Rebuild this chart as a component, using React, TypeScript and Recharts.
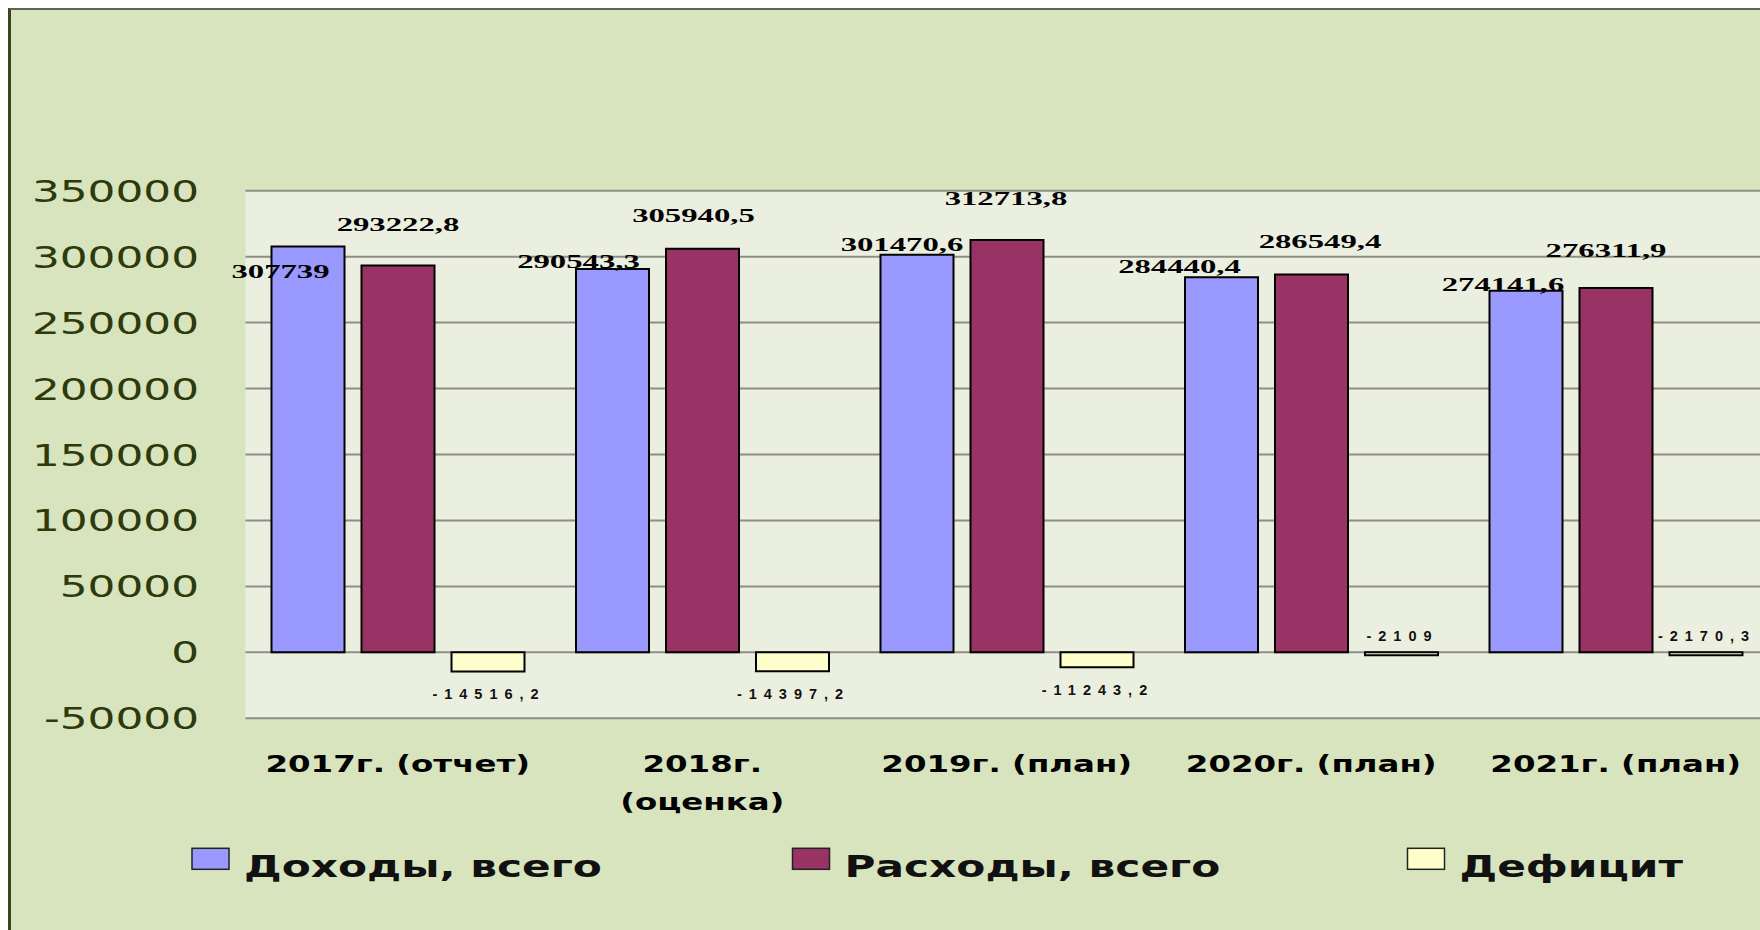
import React from 'react';
import { BarChart, Bar, XAxis, YAxis, CartesianGrid, Legend, LabelList } from 'recharts';

// ---- data ----
const categories = ['2017г. (отчет)', '2018г.\n(оценка)', '2019г. (план)', '2020г. (план)', '2021г. (план)'];
const revenues = [307739, 290543.3, 301470.6, 284440.4, 274141.6];
const expenses = [293222.8, 305940.5, 312713.8, 286549.4, 276311.9];
const deficit = [-14516.2, -14397.2, -11243.2, -2109, -2170.3];
const yTicks = [-50000, 0, 50000, 100000, 150000, 200000, 250000, 300000, 350000];
const seriesNames = ['Доходы, всего', 'Расходы, всего', 'Дефицит'];

// ---- styles ----
const seriesColors = ['#9999FF', '#993366', '#FFFFCC'];
const revLabelOffset = [[-27.5, 31.6], [-34, -1], [-15, -3.3], [-42, -4.3], [-23, 0.7]];
const expLabelOffset = [[0, -35], [-9, -26.8], [-1, -35.3], [8.5, -26.3], [-10, -31]];
const deficitPlace = ['below', 'below', 'below', 'above', 'above'];
const legendX = [181, 781.5, 1396.5];

const data = categories.map((c, i) => ({
  category: c,
  revenues: revenues[i],
  expenses: expenses[i],
  deficit: deficit[i],
}));

const fmt = (v: number) => String(v).replace('.', ',');

function SText(props: any) {
  const { x, y, sx, anchor = 'middle', children, ...rest } = props;
  return (
    <text transform={`translate(${x},${y}) scale(${sx},1)`} x={0} y={0} textAnchor={anchor} {...rest}>
      {children}
    </text>
  );
}

const YTick = (props: any) => {
  const { x, y, payload } = props;
  return (
    <SText x={x - 46.5} y={y + 11} sx={1.46} anchor="end" fontFamily="DejaVu Sans" fontSize={30} fill="#2f3a0b">
      {String(payload.value)}
    </SText>
  );
};

const XTick = (props: any) => {
  const { x, y, payload } = props;
  const lines = String(payload.value).split('\n');
  return (
    <g>
      {lines.map((l, i) => (
        <SText key={i} x={x} y={y + 53.4 + i * 38} sx={1.41} fontFamily="DejaVu Sans" fontWeight="bold" fontSize={23} fill="#000">
          {l}
        </SText>
      ))}
    </g>
  );
};

const barBox = (p: any) => {
  const x = Number(p.x), y = Number(p.y), w = Number(p.width), h = Number(p.height);
  return { cx: x + w / 2, top: Math.min(y, y + h), bottom: Math.max(y, y + h) };
};

const makeValueLabel = (values: number[], offsets: number[][]) => (p: any) => {
  const i = p.index ?? 0;
  const { cx, top } = barBox(p);
  const [dx, dy] = offsets[i] || [0, 0];
  return (
    <SText x={cx + dx} y={top + dy} sx={1.68} fontFamily="Liberation Serif" fontWeight="bold" fontSize={19.5} fill="#000">
      {fmt(values[i] ?? p.value)}
    </SText>
  );
};

const deficitLabel = (p: any) => {
  const i = p.index ?? 0;
  const { cx, top, bottom } = barBox(p);
  const yy = deficitPlace[i] === 'below' ? bottom + 27.5 : top - 11.5;
  return (
    <text x={cx + 1} y={yy} textAnchor="middle" fontFamily="Liberation Sans" fontWeight="bold" fontSize={14.5} letterSpacing={7} fill="#111">
      {fmt(deficit[i] ?? p.value)}
    </text>
  );
};

const renderLegend = () => (
  <svg width={1800} height={80} style={{ display: 'block' }}>
    {seriesNames.map((name, i) => (
      <g key={i}>
        <rect x={legendX[i]} y={18.3} width={37} height={21} fill={seriesColors[i]} stroke="#222" strokeWidth={1.5} />
        <SText x={legendX[i] + 52} y={46.7} sx={1.41} anchor="start" fontFamily="DejaVu Sans" fontWeight="bold" fontSize={30} fill="#111">
          {name}
        </SText>
      </g>
    ))}
  </svg>
);

export default function App() {
  return (
    <>
      <style>{'html,body{overflow:hidden}'}</style>
      <div
        style={{
          position: 'fixed',
          left: 8,
          top: 8,
          width: 1780,
          height: 940,
          overflow: 'hidden',
          background: '#D8E4BE',
          borderTop: '2px solid #5f6358',
          borderLeft: '3px solid #3c4322',
          boxSizing: 'border-box',
        }}
      >
        <BarChart
          width={1800}
          height={920}
          data={data}
          margin={{ top: 180.7, right: 43, bottom: 151.7, left: 0 }}
          barGap={17}
          barSize={73}
        >
          <CartesianGrid vertical={false} fill="#EBEFDF" fillOpacity={1} stroke="#8E8E86" strokeWidth={2} />
          <XAxis
            dataKey="category"
            axisLine={false}
            tickLine={false}
            tickSize={0}
            tickMargin={0}
            height={60}
            interval={0}
            tick={XTick}
          />
          <YAxis
            domain={[-50000, 350000]}
            ticks={yTicks}
            width={234.5}
            axisLine={false}
            tickLine={false}
            tickSize={0}
            tickMargin={0}
            interval={0}
            allowDataOverflow
            tick={YTick}
          />
          <Legend
            verticalAlign="middle"
            align="center"
            layout="horizontal"
            wrapperStyle={{ left: 0, top: 820, width: 1800, height: 80 }}
            content={renderLegend}
          />
          <Bar dataKey="revenues" name={seriesNames[0]} fill={seriesColors[0]} stroke="#000" strokeWidth={2} isAnimationActive={false}>
            <LabelList dataKey="revenues" content={makeValueLabel(revenues, revLabelOffset)} />
          </Bar>
          <Bar dataKey="expenses" name={seriesNames[1]} fill={seriesColors[1]} stroke="#000" strokeWidth={2} isAnimationActive={false}>
            <LabelList dataKey="expenses" content={makeValueLabel(expenses, expLabelOffset)} />
          </Bar>
          <Bar dataKey="deficit" name={seriesNames[2]} fill={seriesColors[2]} stroke="#000" strokeWidth={2} isAnimationActive={false}>
            <LabelList dataKey="deficit" content={deficitLabel} />
          </Bar>
        </BarChart>
      </div>
    </>
  );
}
